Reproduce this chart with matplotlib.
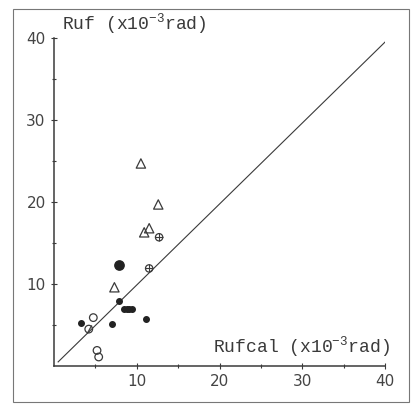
import matplotlib
matplotlib.use("Agg")
import matplotlib.pyplot as plt
from matplotlib.patches import Rectangle

# Data
tri_x = [10.5, 12.6, 11.5, 10.9, 7.3]
tri_y = [24.7, 19.7, 16.8, 16.3, 9.6]

plus_x = [12.7, 11.5]
plus_y = [15.7, 11.9]

big_x = [7.9]
big_y = [12.3]

dot_x = [7.9, 8.4, 8.8, 9.1, 9.4, 3.3, 7.0, 11.1]
dot_y = [7.9, 7.0, 6.9, 6.9, 7.0, 5.3, 5.1, 5.7]

open_x = [4.75, 5.2, 5.4]
open_y = [5.9, 1.9, 1.1]

slash_x = [4.2]
slash_y = [4.5]

line_x = [0.5, 40]
line_y = [0.5, 39.5]

ticks = [10, 20, 30, 40]
minor = [5, 15, 25, 35]

ink = "#3a3a3a"
mono = "Liberation Mono"
plt.rcParams["mathtext.fontset"] = "custom"
plt.rcParams["mathtext.rm"] = mono
plt.rcParams["mathtext.it"] = mono

fig = plt.figure(figsize=(4.11, 4.05), dpi=100)
fig.patch.set_facecolor("white")
fig.add_artist(Rectangle((13/411, 3/405), 396/411, 393/405, transform=fig.transFigure,
                         fill=False, edgecolor="#777777", lw=0.8))

ax = fig.add_axes([54/411, 39/405, 331/411, 328/405])
ax.set_xlim(0, 40)
ax.set_ylim(0, 40)
for s in ["top", "right"]:
    ax.spines[s].set_visible(False)
for s in ["left", "bottom"]:
    ax.spines[s].set_color(ink)
    ax.spines[s].set_linewidth(1.1)

ax.set_xticks(ticks)
ax.set_yticks(ticks)
ax.set_xticks(minor, minor=True)
ax.set_yticks(minor, minor=True)
ax.tick_params(which="both", direction="inout", color=ink, width=0.8, labelcolor="#444444",
               labelsize=11)
ax.tick_params(which="major", length=5)
ax.tick_params(which="minor", length=3)

ax.plot(line_x, line_y, color=ink, lw=0.8)

ax.scatter(tri_x, tri_y, marker="^", s=45, facecolors="none", edgecolors=ink, linewidths=0.9, zorder=3)
ax.scatter(plus_x, plus_y, marker="o", s=28, facecolors="none", edgecolors=ink, linewidths=0.9, zorder=3)
ax.scatter(plus_x, plus_y, marker="+", s=28, color=ink, linewidths=0.8, zorder=3)
ax.scatter(big_x, big_y, marker="o", s=45, color="#222222", zorder=3)
ax.scatter(dot_x, dot_y, marker="o", s=16, color="#222222", zorder=3)
ax.scatter(open_x, open_y, marker="o", s=30, facecolors="none", edgecolors=ink, linewidths=0.9, zorder=3)
ax.scatter(slash_x, slash_y, marker="o", s=30, facecolors="none", edgecolors=ink, linewidths=0.9, zorder=3)
ax.scatter(slash_x, slash_y, marker="$/$", s=30, color=ink, linewidths=0.3, zorder=3)

fig.text(62/411, 1 - 24/405, r"Ruf (x10$^{-3}$rad)", family=mono, fontsize=13, color=ink, va="center", ha="left")
ax.text(40.6, 2.3, r"Rufcal (x10$^{-3}$rad)", family=mono, fontsize=13, color=ink, ha="right", va="center")

fig.savefig("out.png", dpi=100, facecolor="white")
